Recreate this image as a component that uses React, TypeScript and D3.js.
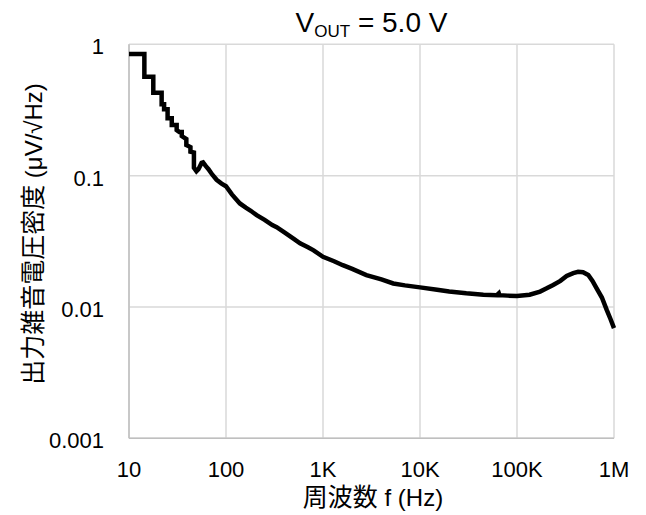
import React from "react";
import * as d3 from "d3";

const freqs: number[] = [
  10, 14.4, 14.4, 17.8, 17.8, 21.7, 21.7, 23, 23, 25, 25, 27.6, 27.6, 31, 31, 33, 35, 35, 39, 39, 43, 43, 46.7, 46.7,
  49.6, 52, 56, 58, 62, 66, 72, 80, 90, 100, 115, 139, 160, 180, 207, 250, 300, 333, 400, 500, 580, 700, 800,
  1000, 1300, 1600, 2000, 2800, 4000, 5300, 7000, 10000, 15000, 20000, 30000, 45000, 62000, 65000, 66000, 80000,
  100000, 135000, 173000, 200000, 236000, 280000, 325000, 380000, 427000, 480000, 543000, 600000, 660000, 750000,
  841000, 920000, 1000000,
];
const noise: number[] = [
  0.843, 0.843, 0.567, 0.567, 0.428, 0.428, 0.35, 0.35, 0.32, 0.32, 0.273, 0.273, 0.243, 0.243, 0.222, 0.215, 0.215, 0.2,
  0.19, 0.171, 0.165, 0.152, 0.15, 0.115, 0.108, 0.112, 0.125, 0.126, 0.118, 0.112, 0.102, 0.093, 0.087, 0.083, 0.072,
  0.0614, 0.057, 0.054, 0.05, 0.046, 0.042, 0.0405, 0.037, 0.033, 0.0305, 0.0285, 0.027, 0.0241, 0.0223, 0.0208,
  0.0195, 0.0175, 0.0162, 0.0151, 0.0146, 0.0141, 0.0135, 0.0131, 0.0127, 0.0124, 0.0123, 0.0127, 0.0123, 0.0122,
  0.0121, 0.0124, 0.0131, 0.0138, 0.0147, 0.0158, 0.0172, 0.0181, 0.0185, 0.0184, 0.0175, 0.0158, 0.0139, 0.0118,
  0.0095, 0.0081, 0.0069,
];

const xTicks: number[] = [10, 100, 1000, 10000, 100000, 1000000];
const xTickLabels: string[] = ["10", "100", "1K", "10K", "100K", "1M"];
const yTicks: number[] = [0.001, 0.01, 0.1, 1];
const yTickLabels: string[] = ["0.001", "0.01", "0.1", "1"];

const FONT = "'Liberation Sans', Arial, 'Noto Sans CJK JP', sans-serif";
const CJK = "'Noto Sans CJK JP', 'Liberation Sans', sans-serif";

export default function App() {
  const x = d3.scaleLog().domain([10, 1e6]).range([129, 614]);
  const y = d3.scaleLog().domain([0.001, 1]).range([438.3, 44.3]);
  const data = freqs.map((f, i) => [f, noise[i]] as [number, number]);
  const line = d3
    .line<[number, number]>()
    .x((d) => x(d[0]))
    .y((d) => y(d[1]));
  const grid = "#d9d9d9";
  return (
    <svg
      width={646}
      height={515}
      style={{ position: "absolute", left: 0, top: 0, background: "#fff" }}
      fontFamily={FONT}
    >
      <rect x={0} y={0} width={646} height={515} fill="#fff" />
      {xTicks.map((t) => (
        <line key={"gx" + t} x1={x(t)} x2={x(t)} y1={y(1)} y2={y(0.001)} stroke={grid} strokeWidth={1.5} />
      ))}
      {yTicks.map((t) => (
        <line key={"gy" + t} x1={x(10)} x2={x(1e6)} y1={y(t)} y2={y(t)} stroke={grid} strokeWidth={1.5} />
      ))}
      <line x1={x(10)} x2={x(10)} y1={y(1)} y2={y(0.001)} stroke="#bfbfbf" strokeWidth={1.5} />
      <line x1={x(10)} x2={x(1e6)} y1={y(0.001)} y2={y(0.001)} stroke="#bfbfbf" strokeWidth={1.5} />
      <path
        d={line(data) || ""}
        fill="none"
        stroke="#000"
        strokeWidth={4.5}
        strokeLinejoin="miter"
        strokeLinecap="butt"
      />
      {yTicks.map((t, i) => (
        <text key={"yl" + t} x={104} y={y(t) + 10} textAnchor="end" fontSize={22} fill="#000">
          {yTickLabels[i]}
        </text>
      ))}
      {xTicks.map((t, i) => (
        <text key={"xl" + t} x={x(t)} y={477} textAnchor="middle" fontSize={22} fill="#000">
          {xTickLabels[i]}
        </text>
      ))}
      <text x={371.5} y={32} textAnchor="middle" fontSize={28} fill="#000">
        V<tspan fontSize={17} dy={5}>OUT</tspan>
        <tspan dy={-5}> = 5.0 V</tspan>
      </text>
      <text x={373} y={506} textAnchor="middle" fontSize={24} fill="#000">
        <tspan fontFamily={CJK} fontSize={25}>周波数</tspan> f (Hz)
      </text>
      <text transform="translate(42,234) rotate(-90)" textAnchor="middle" fontSize={24} fill="#000">
        <tspan fontFamily={CJK} fontSize={25}>出力雑音電圧密度</tspan> (μV/√Hz)
      </text>
    </svg>
  );
}
